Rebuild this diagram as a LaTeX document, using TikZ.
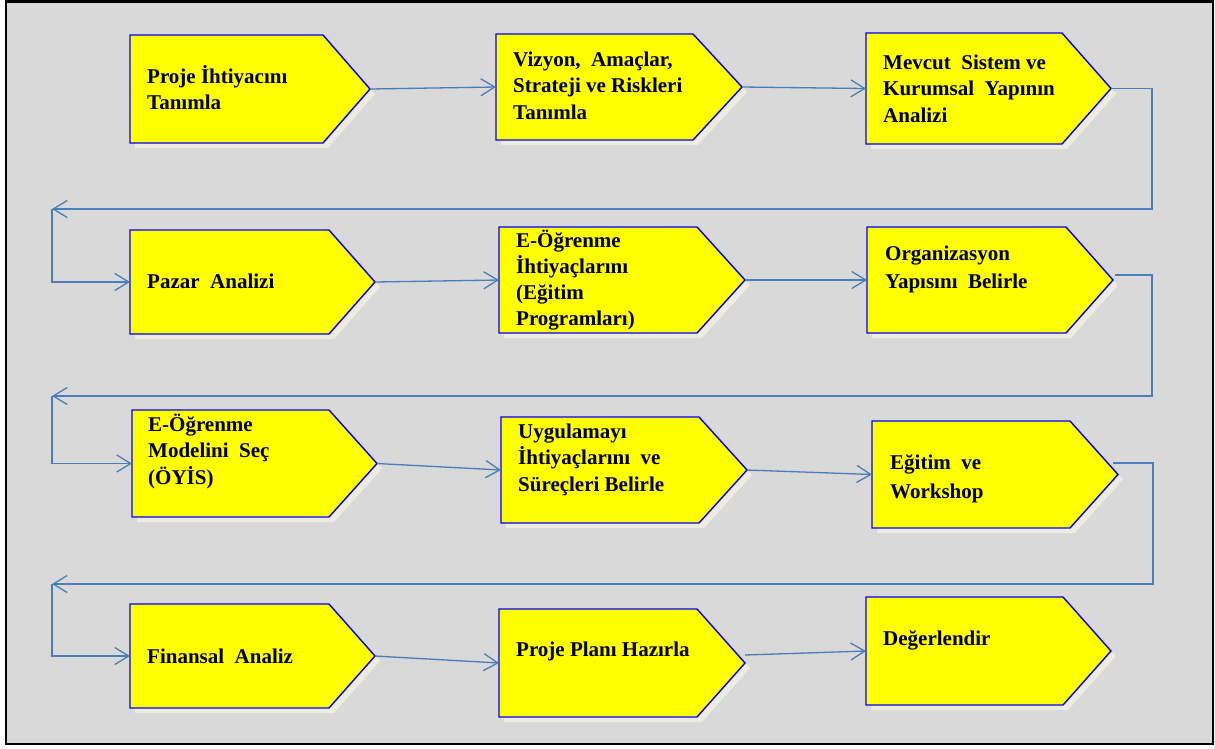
\documentclass[tikz,border=0pt]{standalone}
\usepackage{fontspec}
\setmainfont{Liberation Serif}
\usetikzlibrary{arrows.meta,calc}
\definecolor{panel}{HTML}{D9D9D9}
\definecolor{boxfill}{HTML}{FFFF00}
\definecolor{boxedge}{HTML}{0000FF}
\definecolor{linkcol}{HTML}{4A7EBB}
\definecolor{shade}{HTML}{EEECE1}

\tikzset{
  boxshape/.style={fill=boxfill, draw=boxedge, line width=1.4pt, line join=miter},
  boxshadow/.style={fill=shade},
  conn/.style={draw=linkcol, line width=1.3pt},
  linkarrow/.style={-{Straight Barb[length=14pt,width=17pt]}},
  % anchored on the baseline of the last line
  steptext/.style={anchor=base west, inner sep=0pt, align=left,
    font=\fontsize{21}{26.5}\selectfont\bfseries},
}

% #1 name, #2 left, #3 top, #4 shoulder, #5 tip, #6 bottom
\newcommand\stagebox[6]{%
  \fill[boxshadow] (#2+5,#3+5) -- (#4+5,#3+5) -- (#5+5,{(#3+#6)/2+5})
    -- (#4+5,#6+5) -- (#2+5,#6+5) -- cycle;
  \draw[boxshape] (#2,#3) -- (#4,#3) -- (#5,{(#3+#6)/2}) -- (#4,#6) -- (#2,#6) -- cycle;
  \node[inner sep=0pt, outer sep=0pt, minimum width={(#5-#2)*1pt},
    minimum height={(#6-#3)*1pt}] (#1) at ({(#2+#5)/2},{(#3+#6)/2}) {};
}

\begin{document}
\begin{tikzpicture}[x=1pt, y=-1pt]
  \useasboundingbox (0,0) rectangle (1215,748);
  \fill[white] (0,0) rectangle (1215,748);
  \filldraw[fill=panel, draw=black, line width=2.5pt] (6,1.5) rectangle (1213,744);

  % stages, row by row
  \stagebox{b1}{130}{35}{323}{370}{143}
  \stagebox{b2}{496}{34}{693}{742}{140}
  \stagebox{b3}{866}{33}{1062}{1111}{144}

  \stagebox{b4}{130}{230}{329}{375}{334}
  \stagebox{b5}{499}{227}{697}{745}{333}
  \stagebox{b6}{867}{227}{1066}{1113}{333}

  \stagebox{b7}{132}{410}{329}{377}{517}
  \stagebox{b8}{501}{417}{699}{747}{523}
  \stagebox{b9}{872}{421}{1070}{1118}{528}

  \stagebox{b10}{130}{604}{329}{375}{708}
  \stagebox{b11}{499}{609}{697}{745}{717}
  \stagebox{b12}{866}{597}{1063}{1111}{705}

  % labels
  \node[steptext] (t1) at (147,109.5) {Proje İhtiyacını\\Tanımla};
  \node[steptext] (t2) at (513,119) {Vizyon,\ \ Amaçlar,\\Strateji ve Riskleri\\Tanımla};
  \node[steptext] (t3) at (883,122) {Mevcut\ \ Sistem ve\\Kurumsal\ \ Yapının\\Analizi};
  \node[steptext] (t4) at (147,288) {Pazar\ \ Analizi};
  \node[steptext, font=\fontsize{21}{25.7}\selectfont\bfseries] (t5) at (516,325)
    {E-Öğrenme\\İhtiyaçlarını\\(Eğitim\\Programları)};
  \node[steptext, font=\fontsize{21}{28}\selectfont\bfseries] (t6) at (885,288)
    {Organizasyon\\Yapısını\ \ Belirle};
  \node[steptext] (t7) at (148,484) {E-Öğrenme\\Modelini\ \ Seç\\(ÖYİS)};
  \node[steptext] (t8) at (518,491) {Uygulamayı\\İhtiyaçlarını\ \ ve\\Süreçleri Belirle};
  \node[steptext, font=\fontsize{21}{29}\selectfont\bfseries] (t9) at (890,498)
    {Eğitim\ \ ve\\Workshop};
  \node[steptext] (t10) at (147,663) {Finansal\ \ Analiz};
  \node[steptext] (t11) at (516,656) {Proje Planı Hazırla};
  \node[steptext] (t12) at (883,645) {Değerlendir};

  % links within a row
  \draw[conn, linkarrow] (b1.east) -- (b2.west);
  \draw[conn, linkarrow] (b2.east) -- (b3.west);
  \draw[conn, linkarrow] (b4.east) -- (b5.west);
  \draw[conn, linkarrow] (b5.east) -- (b6.west);
  \draw[conn, linkarrow] (b7.east) -- (b8.west);
  \draw[conn, linkarrow] (b8.east) -- (b9.west);
  \draw[conn, linkarrow] (b10.east) -- (b11.west);
  \coordinate (e11) at (745,655);
  \draw[conn, linkarrow] (e11) -- (b12.west);

  % returns to the start of the next row
  \coordinate (r1) at (1152,209);
  \coordinate (l1) at (52,209);
  \draw[conn, linkarrow] (b3.east) -| (r1) -- (l1);
  \draw[conn, linkarrow] (l1) |- (b4.west);

  \coordinate (e6) at (1115,275);
  \coordinate (r2) at (1152,396);
  \coordinate (l2) at (52,396);
  \draw[conn, linkarrow] (e6) -| (r2) -- (l2);
  \draw[conn, linkarrow] (l2) |- (b7.west);

  \coordinate (e9) at (1113,463);
  \coordinate (r3) at (1153,584);
  \coordinate (l3) at (52,584);
  \draw[conn, linkarrow] (e9) -| (r3) -- (l3);
  \draw[conn, linkarrow] (l3) |- (b10.west);
\end{tikzpicture}
\end{document}
